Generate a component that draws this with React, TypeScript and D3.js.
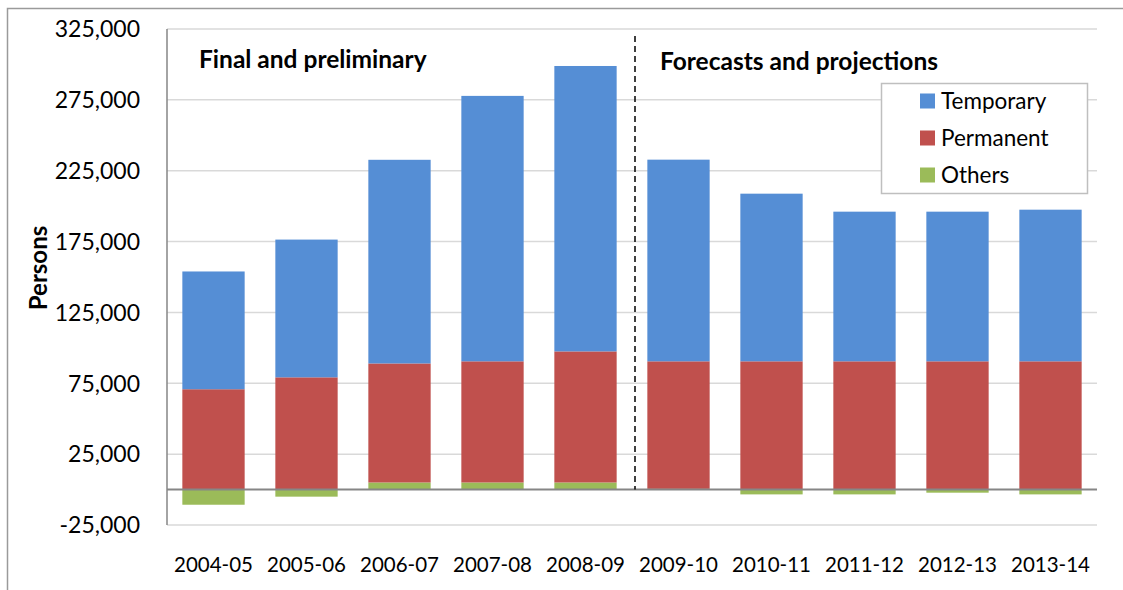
import React from "react";
import * as d3 from "d3";

const categories = ["2004-05","2005-06","2006-07","2007-08","2008-09","2009-10","2010-11","2011-12","2012-13","2013-14"];
const others = [-10700, -5000, 5000, 5000, 5000, 500, -3400, -3400, -2200, -3400];
const permanent = [70800, 79200, 84000, 85500, 92500, 90000, 90500, 90500, 90500, 90500];
const temporary = [83100, 97200, 143700, 187300, 201400, 142300, 118300, 105600, 105600, 107000];
const yTicks = [-25000, 25000, 75000, 125000, 175000, 225000, 275000, 325000];
const seriesNames = ["Temporary", "Permanent", "Others"];
const colors: Record<string, string> = { Temporary: "#558ED5", Permanent: "#C0504D", Others: "#9BBB59" };

const FONT = "Lato, 'Open Sans', sans-serif";

export default function App() {
  const W = 1123, H = 590;
  const left = 167, right = 1097, top = 29, bottom = 525;
  const x = d3.scaleBand<string>().domain(categories).range([left, right]).paddingInner(0.33).paddingOuter(0.165);
  const y = d3.scaleLinear().domain([-25000, 325000]).range([bottom, top]);
  const fmt = d3.formatLocale({ decimal: ".", thousands: ",", grouping: [3], currency: ["", ""], minus: "-" }).format(",");

  const bars: JSX.Element[] = [];
  categories.forEach((c, i) => {
    const xx = x(c)!;
    const bw = x.bandwidth();
    let posBase = 0;
    let negBase = 0;
    const segs: [string, number][] = [["Others", others[i]], ["Permanent", permanent[i]], ["Temporary", temporary[i]]];
    segs.forEach(([name, v]) => {
      let y0: number, y1: number;
      if (v >= 0) { y0 = posBase; y1 = posBase + v; posBase = y1; }
      else { y0 = negBase; y1 = negBase + v; negBase = y1; }
      const ya = y(Math.max(y0, y1)), yb = y(Math.min(y0, y1));
      bars.push(<rect key={c + name} x={xx} y={ya} width={bw} height={yb - ya} fill={colors[name]} />);
    });
  });

  const dashX = (x(categories[4])! + x.bandwidth() + x(categories[5])!) / 2 + 3;

  return (
    <svg width={W} height={H} style={{ position: "absolute", left: 0, top: 0, background: "#fff" }} fontFamily={FONT}>
      <rect x={7.5} y={8.5} width={W} height={H} fill="#fff" stroke="#9a9a9a" strokeWidth={1.5} />
      {yTicks.map(t => (
        <line key={"g" + t} x1={left} x2={right} y1={y(t)} y2={y(t)} stroke="#d9d9d9" strokeWidth={1.5} />
      ))}
      {bars}
      <line x1={left} x2={left} y1={top} y2={bottom} stroke="#868686" strokeWidth={1.5} />
      <line x1={left} x2={right} y1={y(0)} y2={y(0)} stroke="#868686" strokeWidth={2} />
      <line x1={dashX} x2={dashX} y1={36} y2={y(0)} stroke="#000" strokeWidth={1.5} strokeDasharray="6,4" />
      {yTicks.map(t => (
        <text key={"t" + t} x={140} y={y(t)} dy="0.36em" textAnchor="end" fontSize={23} fill="#000">{fmt(t)}</text>
      ))}
      {categories.map(c => (
        <text key={"c" + c} x={x(c)! + x.bandwidth() / 2} y={572} textAnchor="middle" fontSize={20.5} fill="#000">{c}</text>
      ))}
      <text transform="translate(47,268) rotate(-90)" textAnchor="middle" fontSize={24} fontWeight="bold">Persons</text>
      <text x={199} y={68} fontSize={24.5} fontWeight="bold">Final and preliminary</text>
      <text x={660} y={70} fontSize={24.5} fontWeight="bold">Forecasts and projections</text>
      <rect x={881.5} y={83.5} width={206} height={110} fill="#fff" stroke="#bfbfbf" strokeWidth={1.5} />
      {seriesNames.map((s, i) => (
        <g key={s} transform={`translate(920,${101 + i * 37})`}>
          <rect x={0} y={-7.5} width={15} height={15} fill={colors[s]} />
          <text x={21} y={0} dy="0.36em" fontSize={22.5}>{s}</text>
        </g>
      ))}
    </svg>
  );
}
